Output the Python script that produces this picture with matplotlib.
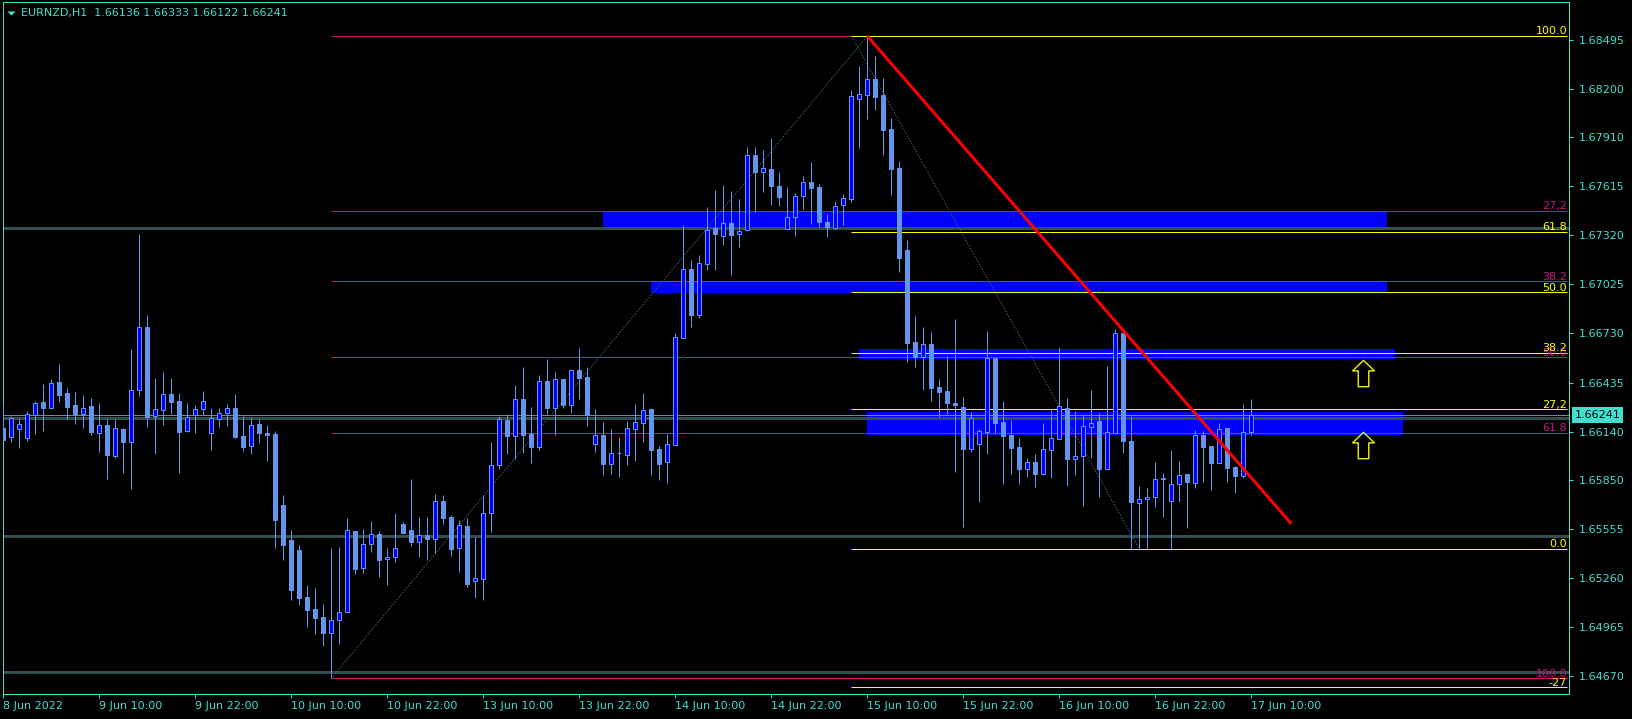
import matplotlib
matplotlib.use("Agg")
import matplotlib.pyplot as plt
import matplotlib.transforms as mtransforms
from matplotlib.path import Path
from matplotlib.patches import Rectangle
from matplotlib.lines import Line2D
import numpy as np

# ---------------- data ----------------
title_text = "EURNZD,H1  1.66136 1.66333 1.66122 1.66241"

x_tick_labels = ["8 Jun 2022", "9 Jun 10:00", "9 Jun 22:00", "10 Jun 10:00", "10 Jun 22:00",
                 "13 Jun 10:00", "13 Jun 22:00", "14 Jun 10:00", "14 Jun 22:00", "15 Jun 10:00",
                 "15 Jun 22:00", "16 Jun 10:00", "16 Jun 22:00", "17 Jun 10:00"]
x_tick_step = 12

y_ticks = [1.68495, 1.68200, 1.67910, 1.67615, 1.67320, 1.67025, 1.66730,
           1.66435, 1.66140, 1.65850, 1.65555, 1.65260, 1.64965, 1.64670]

opens = [1.66162, 1.66107, 1.66154, 1.66100, 1.66238, 1.66318, 1.66284, 1.66438, 1.66372, 1.66300,
         1.66248, 1.66294, 1.66130, 1.66180, 1.65995, 1.66156, 1.66079, 1.66388, 1.66769, 1.66232,
         1.66272, 1.66366, 1.66324, 1.66141, 1.66238, 1.66274, 1.66130, 1.66214, 1.66250, 1.66282,
         1.66113, 1.66055, 1.66186, 1.66131, 1.66125, 1.65698, 1.65488, 1.65428, 1.65145, 1.65073,
         1.65025, 1.64927, 1.65005, 1.65053, 1.65542, 1.65318, 1.65462, 1.65524, 1.65372, 1.65384,
         1.65584, 1.65548, 1.65478, 1.65518, 1.65496, 1.65723, 1.65626, 1.65442, 1.65572, 1.65239,
         1.65255, 1.65648, 1.65937, 1.66210, 1.66115, 1.66336, 1.66125, 1.66049, 1.66444, 1.66284,
         1.66456, 1.66302, 1.66510, 1.66468, 1.66068, 1.66119, 1.65947, 1.66013, 1.66001, 1.66157,
         1.66193, 1.66276, 1.66035, 1.65959, 1.66061, 1.66701, 1.67118, 1.66843, 1.67150, 1.67364,
         1.67318, 1.67395, 1.67326, 1.67350, 1.67804, 1.67703, 1.67717, 1.67617, 1.67357, 1.67429,
         1.67555, 1.67639, 1.67611, 1.67401, 1.67366, 1.67501, 1.67540, 1.68142, 1.68166, 1.68259,
         1.68165, 1.67960, 1.67725, 1.67232, 1.66679, 1.66590, 1.66667, 1.66408, 1.66384, 1.66310,
         1.66288, 1.66037, 1.66067, 1.66139, 1.66584, 1.66198, 1.66121, 1.66047, 1.65917, 1.65957,
         1.65887, 1.66031, 1.66097, 1.66282, 1.65977, 1.65991, 1.66169, 1.66204, 1.65917, 1.66133,
         1.66731, 1.66083, 1.65709, 1.65733, 1.65745, 1.65853, 1.65721, 1.65823, 1.65885, 1.65833,
         1.66117, 1.66053, 1.65953, 1.66162, 1.65926, 1.65875, 1.66136]
highs = [1.66306, 1.66234, 1.66220, 1.66262, 1.66322, 1.66426, 1.66456, 1.66546, 1.66402, 1.66378,
         1.66360, 1.66342, 1.66312, 1.66216, 1.66216, 1.66162, 1.66637, 1.67328, 1.66841, 1.66462,
         1.66498, 1.66462, 1.66372, 1.66312, 1.66300, 1.66384, 1.66282, 1.66282, 1.66306, 1.66366,
         1.66235, 1.66229, 1.66216, 1.66180, 1.66143, 1.65759, 1.65548, 1.65458, 1.65217, 1.65199,
         1.65103, 1.65440, 1.65446, 1.65620, 1.65542, 1.65554, 1.65602, 1.65542, 1.65440, 1.65650,
         1.65598, 1.65855, 1.65626, 1.65626, 1.65765, 1.65759, 1.65638, 1.65608, 1.65620, 1.65506,
         1.65759, 1.66077, 1.66234, 1.66246, 1.66420, 1.66528, 1.66290, 1.66480, 1.66577, 1.66498,
         1.66456, 1.66516, 1.66643, 1.66528, 1.66278, 1.66198, 1.66157, 1.66109, 1.66206, 1.66308,
         1.66370, 1.66276, 1.66053, 1.66127, 1.66731, 1.67382, 1.67172, 1.67202, 1.67489, 1.67593,
         1.67623, 1.67587, 1.67539, 1.67852, 1.67850, 1.67834, 1.67906, 1.67701, 1.67611, 1.67573,
         1.67679, 1.67761, 1.67629, 1.67449, 1.67525, 1.67569, 1.68194, 1.68339, 1.68519, 1.68399,
         1.68267, 1.68026, 1.67767, 1.67292, 1.66835, 1.66769, 1.66739, 1.66456, 1.66595, 1.66817,
         1.66348, 1.66258, 1.66154, 1.66745, 1.66584, 1.66324, 1.66210, 1.66101, 1.65983, 1.66003,
         1.66192, 1.66276, 1.66649, 1.66342, 1.66266, 1.66240, 1.66390, 1.66252, 1.66534, 1.66755,
         1.66731, 1.66234, 1.65813, 1.65801, 1.65957, 1.65891, 1.66029, 1.65961, 1.65885, 1.66151,
         1.66143, 1.66053, 1.66190, 1.66162, 1.65934, 1.66304, 1.66333]
lows = [1.66089, 1.66077, 1.66043, 1.66085, 1.66127, 1.66145, 1.66278, 1.66320, 1.66216, 1.66187,
        1.66163, 1.66121, 1.66019, 1.65857, 1.65983, 1.65893, 1.65797, 1.66356, 1.66169, 1.66005,
        1.66180, 1.66248, 1.65893, 1.66139, 1.66133, 1.66240, 1.66031, 1.66169, 1.66175, 1.66103,
        1.66025, 1.66007, 1.66073, 1.65965, 1.65440, 1.65368, 1.65127, 1.65097, 1.64966, 1.64925,
        1.64852, 1.64656, 1.64864, 1.65053, 1.65282, 1.65291, 1.65418, 1.65267, 1.65219, 1.65357,
        1.65532, 1.65454, 1.65388, 1.65369, 1.65412, 1.65586, 1.65394, 1.65297, 1.65207, 1.65141,
        1.65129, 1.65538, 1.65917, 1.66005, 1.65975, 1.66011, 1.65951, 1.66031, 1.66248, 1.66121,
        1.66284, 1.66254, 1.66336, 1.66175, 1.66017, 1.65881, 1.65887, 1.65869, 1.65941, 1.65965,
        1.66077, 1.65881, 1.65849, 1.65833, 1.66061, 1.66701, 1.66771, 1.66825, 1.67110, 1.67114,
        1.67262, 1.67082, 1.67252, 1.67348, 1.67462, 1.67583, 1.67505, 1.67497, 1.67357, 1.67318,
        1.67479, 1.67387, 1.67369, 1.67312, 1.67358, 1.67382, 1.67522, 1.67847, 1.68020, 1.68076,
        1.67805, 1.67565, 1.67100, 1.66560, 1.66530, 1.66390, 1.66324, 1.66229, 1.66248, 1.65899,
        1.65568, 1.66017, 1.65718, 1.66005, 1.66133, 1.65825, 1.65887, 1.65827, 1.65869, 1.65809,
        1.65881, 1.65863, 1.66097, 1.65815, 1.65879, 1.65694, 1.65983, 1.65748, 1.65915, 1.66133,
        1.66013, 1.65434, 1.65428, 1.65434, 1.65688, 1.65627, 1.65430, 1.65715, 1.65562, 1.65802,
        1.65839, 1.65790, 1.65949, 1.65839, 1.65773, 1.65863, 1.66122]
closes = [1.66089, 1.66222, 1.66184, 1.66244, 1.66310, 1.66284, 1.66430, 1.66362, 1.66290, 1.66248,
          1.66280, 1.66139, 1.66178, 1.66001, 1.66162, 1.66079, 1.66390, 1.66767, 1.66229, 1.66274,
          1.66364, 1.66320, 1.66139, 1.66226, 1.66274, 1.66322, 1.66220, 1.66250, 1.66280, 1.66109,
          1.66049, 1.66178, 1.66133, 1.66121, 1.65608, 1.65458, 1.65187, 1.65141, 1.65069, 1.65021,
          1.64930, 1.65005, 1.65053, 1.65546, 1.65315, 1.65462, 1.65522, 1.65369, 1.65386, 1.65438,
          1.65532, 1.65478, 1.65516, 1.65496, 1.65721, 1.65622, 1.65436, 1.65576, 1.65225, 1.65259,
          1.65650, 1.65937, 1.66214, 1.66115, 1.66336, 1.66121, 1.66049, 1.66444, 1.66284, 1.66456,
          1.66302, 1.66510, 1.66464, 1.66237, 1.66119, 1.65947, 1.66009, 1.66009, 1.66162, 1.66196,
          1.66270, 1.66029, 1.65947, 1.66065, 1.66707, 1.67118, 1.66841, 1.67152, 1.67350, 1.67330,
          1.67393, 1.67324, 1.67346, 1.67804, 1.67703, 1.67723, 1.67619, 1.67553, 1.67429, 1.67555,
          1.67639, 1.67607, 1.67399, 1.67369, 1.67495, 1.67543, 1.68157, 1.68170, 1.68259, 1.68154,
          1.67956, 1.67721, 1.67184, 1.66675, 1.66590, 1.66665, 1.66404, 1.66380, 1.66314, 1.66302,
          1.66035, 1.66220, 1.66141, 1.66584, 1.66193, 1.66115, 1.66043, 1.65917, 1.65955, 1.65887,
          1.66033, 1.66101, 1.66292, 1.65977, 1.65993, 1.66172, 1.66190, 1.65917, 1.66136, 1.66731,
          1.66085, 1.65715, 1.65733, 1.65747, 1.65853, 1.65861, 1.65823, 1.65877, 1.65839, 1.66117,
          1.66049, 1.65953, 1.66154, 1.65923, 1.65875, 1.66136, 1.66241]

# horizontal support / resistance lines
h_lines = [1.67363, 1.66222, 1.65512, 1.64697]
bid_price = 1.66241

# fibonacci retracement 1 (magenta): low -> high (0.0 label hidden under the yellow 100.0)
fib1_start_bar = 41
fib1_low, fib1_high = 1.64656, 1.68519
fib1_end_bar = 108
fib1_levels = [0.0, 0.272, 0.382, 0.5, 0.618, 1.0]
fib1_labels = ["", "27,2", "38.2", "50.0", "61.8", "100.0"]

# fibonacci retracement 2 (yellow): high -> low
fib2_start_bar = 106
fib2_high, fib2_low = 1.68519, 1.65434
fib2_end_bar = 142
fib2_levels = [1.0, 0.618, 0.5, 0.382, 0.272, 0.0, -0.27]
fib2_labels = ["100.0", "61.8", "50.0", "38.2", "27,2", "0.0", "-27"]

# blue zones (rectangles): bar start, bar end, price low, price high
zone_x0 = [75, 81, 107, 108]
zone_x1 = [173, 173, 174, 175]
zone_lo = [1.67358, 1.66975, 1.66574, 1.66120]
zone_hi = [1.67468, 1.67044, 1.66637, 1.66260]

# red trendline
trend_bars = [108, 161]
trend_prices = [1.68519, 1.65585]

# yellow up arrows
arrow_bars = [170, 170]
arrow_prices = [1.66493, 1.66059]

# ---------------- style ----------------
BG = "black"
FG = "#40E0D0"
CANDLE = "#6495ED"
BULL_FILL = "#0000FF"
MAGENTA = "#C71585"
YELLOW = "#FFFF00"
GRAY = "#2F4F4F"
PX = 0.72  # one pixel in points at 100 dpi

fig = plt.figure(figsize=(16.33, 7.19), dpi=100, facecolor=BG)
W, H = 1633.0, 719.0
ax = fig.add_axes([2.7 / W, 25 / H, (1569 - 2.7) / W, (694 - 2) / H])
ax.set_facecolor(BG)

n = len(opens)
xs = np.arange(n)
o = np.array(opens); hi = np.array(highs); lo = np.array(lows); c = np.array(closes)

ax.set_xlim(-0.075, 195.71)
ax.set_ylim(1.645617, 1.687236)
xr = ax.get_xlim()[1] - 0.25

# zones
for x0, x1, l_, h_ in zip(zone_x0, zone_x1, zone_lo, zone_hi):
    ax.add_patch(Rectangle((x0, l_), x1 - x0, h_ - l_, facecolor="#0000FF", edgecolor="none", zorder=1))

# horizontal gray lines
for p in h_lines:
    ax.axhline(p, color=GRAY, lw=3 * PX, zorder=2)
ax.axhline(bid_price, color="#778899", lw=PX, zorder=2)

# fib 1
for lev, lab in zip(fib1_levels, fib1_labels):
    p = fib1_high - lev * (fib1_high - fib1_low)
    ax.hlines(p, fib1_start_bar, xr, color=MAGENTA, lw=PX, zorder=2.2)
    if lab:
        ax.annotate(lab, xy=(xr, p), xytext=(0, 1.2), textcoords="offset points",
                    ha="right", va="baseline", color=MAGENTA, fontsize=8, zorder=6)
ax.plot([fib1_start_bar, fib1_end_bar], [fib1_low, fib1_high], color="#3E6464",
        lw=PX, ls=(0, (1.5, 1.5)), zorder=2.3)

# fib 2
for lev, lab in zip(fib2_levels, fib2_labels):
    p = fib2_low + lev * (fib2_high - fib2_low)
    ax.hlines(p, fib2_start_bar, xr, color=YELLOW, lw=PX, zorder=2.4)
    ax.annotate(lab, xy=(xr, p), xytext=(0, 1.2), textcoords="offset points",
                ha="right", va="baseline", color=YELLOW, fontsize=8, zorder=6.1)
ax.plot([fib2_start_bar, fib2_end_bar], [fib2_high, fib2_low], color="#3E6464",
        lw=PX, ls=(0, (1.5, 1.5)), zorder=2.3)

# candles
ax.vlines(xs, lo, hi, color=CANDLE, lw=PX, zorder=3)
bull = c >= o
bot = np.minimum(o, c)
ht = np.maximum(np.abs(c - o), 1e-6)
ax.bar(xs[bull], ht[bull], 0.5, bottom=bot[bull], color=BULL_FILL, edgecolor=CANDLE,
       linewidth=PX, zorder=4)
ax.bar(xs[~bull], ht[~bull], 0.5, bottom=bot[~bull], color=CANDLE, edgecolor=CANDLE,
       linewidth=PX, zorder=4)

# red trendline
ax.plot(trend_bars, trend_prices, color="#FF0000", lw=3 * PX, zorder=5, solid_capstyle="butt")

# arrows
arrow_path = Path([(0, 1), (-0.82, 0.2), (-0.4, 0.2), (-0.4, -1), (0.4, -1), (0.4, 0.2),
                   (0.82, 0.2), (0, 1)],
                  [Path.MOVETO] + [Path.LINETO] * 6 + [Path.CLOSEPOLY])
ax.plot(arrow_bars, arrow_prices, ls="none", marker=arrow_path, markersize=19,
        markerfacecolor="none", markeredgecolor=YELLOW, markeredgewidth=1.3 * PX, zorder=5)

# axes styling
for s in ax.spines.values():
    s.set_color(FG)
    s.set_linewidth(PX)
ax.yaxis.tick_right()
ax.set_yticks(y_ticks)
ax.set_yticklabels([f"{v:.5f}" for v in y_ticks])
tick_pos = list(range(0, n, x_tick_step))
ax.set_xticks(tick_pos)
ax.set_xticklabels(x_tick_labels[:len(tick_pos)])
ax.tick_params(axis="y", colors=FG, labelsize=8, length=3, width=PX, pad=4, direction="out")
ax.tick_params(axis="x", colors=FG, labelsize=8, length=3, width=PX, pad=2, direction="out")
for t in ax.get_xticklabels():
    t.set_ha("left")

# current price box
ax.annotate(f"{bid_price:.5f}", xy=(1.0, bid_price),
            xycoords=mtransforms.blended_transform_factory(ax.transAxes, ax.transData),
            xytext=(4, 0), textcoords="offset points", ha="left", va="center",
            fontsize=8, color="black",
            bbox=dict(boxstyle="square,pad=0.25", fc=FG, ec="none"), annotation_clip=False, zorder=10)

# title
fig.text(21 / W, 1 - 13 / H, title_text, color=FG, fontsize=8, ha="left", va="center")
tri = Path([(-1, 0.5), (1, 0.5), (0, -0.5), (-1, 0.5)],
           [Path.MOVETO, Path.LINETO, Path.LINETO, Path.CLOSEPOLY])
fig.add_artist(Line2D([11 / W], [1 - 12.5 / H], transform=fig.transFigure, ls="none",
                      marker=tri, markersize=6, color=FG, markeredgewidth=0))

fig.savefig("out.png", dpi=100, facecolor=BG)
